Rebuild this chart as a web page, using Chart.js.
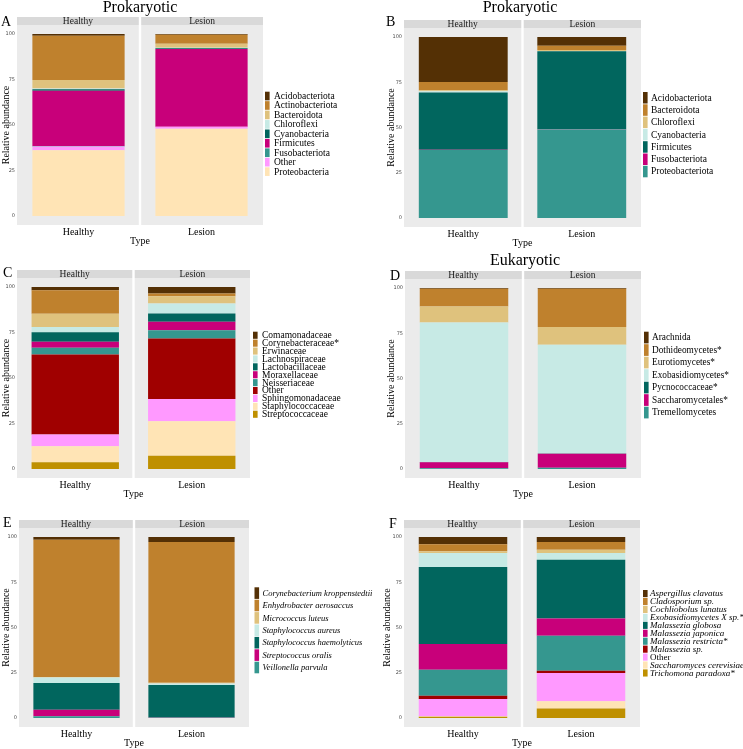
<!DOCTYPE html>
<html>
<head>
<meta charset="utf-8">
<script src="https://cdn.jsdelivr.net/npm/chart.js@4.4.1/dist/chart.umd.min.js"></script>
<style>
  body { margin: 0; background: #fff; overflow: hidden; }
  canvas { position: absolute; left: 0; top: 0; }
</style>
</head>
<body>
<canvas id="chartA" width="743" height="749"></canvas>
<canvas id="chartB" width="743" height="749"></canvas>
<canvas id="chartC" width="743" height="749"></canvas>
<canvas id="chartD" width="743" height="749"></canvas>
<canvas id="chartE" width="743" height="749"></canvas>
<canvas id="chartF" width="743" height="749"></canvas>
<script>
// sample types and y ticks
var types = ["Healthy", "Lesion"];
var yTicks = [0, 25, 50, 75, 100];

// A - prokaryotic phyla
var taxaA = ["Acidobacteriota", "Actinobacteriota", "Bacteroidota", "Chloroflexi", "Cyanobacteria", "Firmicutes", "Fusobacteriota", "Other", "Proteobacteria"];
var healthyA = [0.9, 24.4, 4.6, 0.4, 0.8, 30.5, 0.2, 2.1, 36.1];
var lesionA = [0.4, 4.9, 2.2, 0.3, 0.4, 42.7, 0.1, 1.1, 47.9];

// B - prokaryotic phyla
var taxaB = ["Acidobacteriota", "Bacteroidota", "Chloroflexi", "Cyanobacteria", "Firmicutes", "Fusobacteriota", "Proteobacteriota"];
var healthyB = [24.8, 4.6, 0.5, 0.7, 31.7, 0.1, 37.6];
var lesionB = [4.8, 2.4, 0.5, 0.2, 43.1, 0.1, 48.9];

// C - families
var taxaC = ["Comamonadaceae", "Corynebacteraceae*", "Erwinaceae", "Lachnospiraceae", "Lactobacillaceae", "Moraxellaceae", "Neisseriaceae", "Other", "Sphingomonadaceae", "Staphylococcaceae", "Streptococcaceae"];
var healthyC = [1.8, 12.8, 7.3, 2.9, 5.3, 3.3, 3.7, 44.0, 6.4, 8.8, 3.7];
var lesionC = [3.5, 1.5, 4.0, 5.5, 4.6, 4.6, 4.6, 33.2, 12.3, 18.9, 7.3];

// D - eukaryotic classes
var taxaD = ["Arachnida", "Dothideomycetes*", "Eurotiomycetes*", "Exobasidiomycetes*", "Pycnococcaceae*", "Saccharomycetales*", "Tremellomycetes"];
var healthyD = [0.4, 9.8, 8.8, 77.1, 0.2, 3.3, 0.4];
var lesionD = [0.4, 21.2, 9.8, 60.0, 0.2, 7.7, 0.7];

// E - bacterial species
var taxaE = ["Corynebacterium kroppenstedtii", "Enhydrobacter aerosaccus", "Micrococcus luteus", "Staphylococcus aureus", "Staphylococcus haemolyticus", "Streptococcus oralis", "Veillonella parvula"];
var healthyE = [1.5, 75.9, 0.2, 3.1, 14.7, 3.7, 0.9];
var lesionE = [2.8, 77.8, 0.4, 0.8, 18.0, 0.1, 0.1];

// F - fungal species
var taxaF = ["Aspergillus clavatus", "Cladosporium sp.", "Cochliobolus lunatus", "Exobasidiomycetes X sp.*", "Malassezia globosa", "Malassezia japonica", "Malassezia restricta*", "Malassezia sp.", "Other", "Saccharomyces cerevisiae", "Trichomona paradoxa*"];
var healthyF = [4.0, 3.9, 0.9, 7.7, 42.6, 14.3, 14.3, 1.8, 9.5, 0.4, 0.6];
var lesionF = [2.8, 4.2, 1.8, 3.7, 32.5, 9.5, 19.4, 1.3, 15.6, 4.0, 5.2];

// colours
var pal11 = ["#543005", "#BF812D", "#DFC27D", "#C7EAE5", "#01665E", "#C8007A", "#35978F", "#A00000", "#FF99FF", "#FFE4B5", "#BF9000"];
var pal7 = pal11.slice(0, 7);
var palA = ["#543005", "#BF812D", "#DFC27D", "#C7EAE5", "#01665E", "#C8007A", "#35978F", "#FF99FF", "#FFE4B5"];

var serif = '"Liberation Serif", "Times New Roman", serif';

// draws the facet panels, strips, title, letter and the legend
function facet(o) {
  return {
    id: "facet",
    beforeDraw: function (chart) {
      var ctx = chart.ctx, a = chart.chartArea;
      var mid = (a.left + a.right) / 2, gap = 1.2;
      var boxes = [[a.left, mid - gap], [mid + gap, a.right]];
      ctx.save();
      boxes.forEach(function (b, i) {
        ctx.fillStyle = "#EBEBEB";
        ctx.fillRect(b[0], a.top, b[1] - b[0], a.bottom - a.top);
        ctx.fillStyle = "#D9D9D9";
        ctx.fillRect(b[0], a.top - 8, b[1] - b[0], 8);
        ctx.fillStyle = "#1A1A1A";
        ctx.font = "9.5px " + serif;
        ctx.textAlign = "center";
        ctx.textBaseline = "middle";
        ctx.fillText(chart.data.labels[i], (b[0] + b[1]) / 2, a.top - 3.8);
      });
      ctx.restore();
    },
    afterDraw: function (chart) {
      var ctx = chart.ctx;
      ctx.save();
      ctx.fillStyle = "#000";
      ctx.textBaseline = "middle";
      if (o.title) {
        ctx.font = "16px " + serif;
        ctx.textAlign = "center";
        ctx.fillText(o.title, o.titleX, o.titleY);
      }
      ctx.font = "14px " + serif;
      ctx.textAlign = "left";
      ctx.fillText(o.letter, o.letterX, o.letterY);

      var ds = chart.data.datasets, n = ds.length;
      for (var k = 0; k < n; k++) {
        var d = ds[n - 1 - k];
        var y = o.legendY + k * o.legendStep;
        ctx.fillStyle = d.backgroundColor;
        ctx.fillRect(o.legendX, y, 4.6, o.legendStep - 0.8);
        ctx.fillStyle = "#000";
        ctx.font = (o.italic && d.label !== "Other" ? "italic " : "") + o.legendFont + "px " + serif;
        ctx.fillText(d.label, o.textX, y + o.legendStep / 2);
      }
      ctx.restore();
    }
  };
}

function makePanel(id, taxa, healthy, lesion, colors, o) {
  // first legend entry sits on top of the stack
  var datasets = [];
  for (var i = taxa.length - 1; i >= 0; i--) {
    datasets.push({
      label: taxa[i],
      data: [healthy[i], lesion[i]],
      backgroundColor: colors[i],
      borderWidth: 0,
      barPercentage: 0.75,
      categoryPercentage: 1
    });
  }
  var padLeft = Math.max(0, o.yTitleX - 6);
  new Chart(id, {
    type: "bar",
    data: { labels: types, datasets: datasets },
    options: {
      responsive: false,
      animation: false,
      events: [],
      layout: { padding: { left: padLeft, top: o.box[1], right: 743 - o.box[2], bottom: 749 - o.box[3] - 22 } },
      plugins: { legend: { display: false }, tooltip: { enabled: false } },
      scales: {
        x: {
          stacked: true,
          offset: true,
          grid: { display: false, drawTicks: false },
          border: { display: false },
          ticks: { color: "#000", font: { family: serif, size: 10 }, padding: 1, maxRotation: 0 },
          title: { display: true, text: "Type", color: "#000", font: { family: serif, size: 10 }, padding: 0 },
          afterFit: function (s) { s.height = 22; }
        },
        y: {
          stacked: true,
          min: -5,
          max: 105,
          grid: { display: false, drawTicks: false },
          border: { display: false },
          afterBuildTicks: function (s) {
            s.ticks = yTicks.map(function (v) { return { value: v }; });
          },
          ticks: { color: "#4D4D4D", font: { family: "DejaVu Sans", size: 5 }, padding: 2 },
          title: { display: true, text: "Relative abundance", color: "#000", font: { family: serif, size: 10 }, padding: 0 },
          afterFit: function (s) { s.width = o.box[0] - padLeft; }
        }
      }
    },
    plugins: [facet(o)]
  });
}

makePanel("chartA", taxaA, healthyA, lesionA, palA, {
  box: [17, 25, 263, 225], yTitleX: 6,
  title: "Prokaryotic", titleX: 140, titleY: 8,
  letter: "A", letterX: 1, letterY: 22,
  legendX: 265, legendY: 91.7, legendStep: 9.45, textX: 274, legendFont: 9.5, italic: false
});

makePanel("chartB", taxaB, healthyB, lesionB, pal7, {
  box: [404, 28, 641, 227], yTitleX: 391,
  title: "Prokaryotic", titleX: 520, titleY: 8,
  letter: "B", letterX: 386, letterY: 22.5,
  legendX: 643, legendY: 92, legendStep: 12.3, textX: 651, legendFont: 9.5, italic: false
});

makePanel("chartC", taxaC, healthyC, lesionC, pal11, {
  box: [17, 278, 250, 478], yTitleX: 5,
  title: "", titleX: 0, titleY: 0,
  letter: "C", letterX: 3, letterY: 273.5,
  legendX: 253, legendY: 331.7, legendStep: 7.9, textX: 262, legendFont: 9.5, italic: false
});

makePanel("chartD", taxaD, healthyD, lesionD, pal7, {
  box: [405, 279, 641, 478], yTitleX: 391,
  title: "Eukaryotic", titleX: 525, titleY: 261,
  letter: "D", letterX: 390, letterY: 276,
  legendX: 644, legendY: 331.7, legendStep: 12.5, textX: 652, legendFont: 9.3, italic: false
});

makePanel("chartE", taxaE, healthyE, lesionE, pal7, {
  box: [19, 528, 249, 727], yTitleX: 5.5,
  title: "", titleX: 0, titleY: 0,
  letter: "E", letterX: 3, letterY: 523.5,
  legendX: 254.5, legendY: 587.3, legendStep: 12.4, textX: 262.5, legendFont: 8.5, italic: true
});

makePanel("chartF", taxaF, healthyF, lesionF, pal11, {
  box: [404, 528, 640, 727], yTitleX: 387.5,
  title: "", titleX: 0, titleY: 0,
  letter: "F", letterX: 389, letterY: 524,
  legendX: 643, legendY: 590, legendStep: 7.94, textX: 650, legendFont: 9, italic: true
});
</script>
</body>
</html>
